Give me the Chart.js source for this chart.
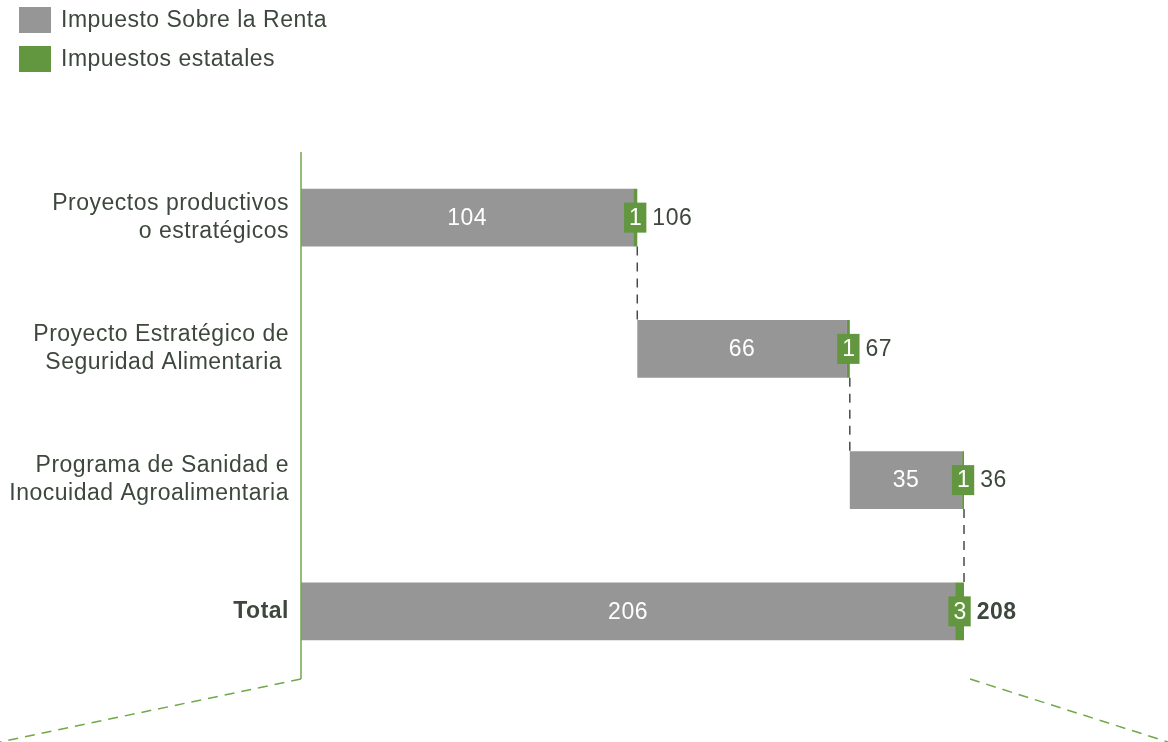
<!DOCTYPE html>
<html>
<head>
<meta charset="utf-8">
<script src="https://cdn.jsdelivr.net/npm/chart.js@4"></script>
<style>
  html, body { margin: 0; padding: 0; background: #fff; }
  #wrap { width: 1168px; height: 742px; }
</style>
</head>
<body>
<div id="wrap"><canvas id="taxChart"></canvas></div>
<script>
const categories = [
  ["Proyectos productivos", "o estratégicos"],
  ["Proyecto Estratégico de", "Seguridad Alimentaria "],
  ["Programa de Sanidad e", "Inocuidad Agroalimentaria"],
  "Total"
]
const seriesNames = ["Impuesto Sobre la Renta", "Impuestos estatales"]
const renta = [104.4, 65.9, 35.3]
const estatales = [1.3, 0.9, 0.6]

const GRAY = "#969696"
const GREEN = "#62963f"
const TEXT = "#3d473d"
const FONT = "'Liberation Sans', Arial, sans-serif"
const SIZE = 23

// build waterfall ranges
const rentaBars = []
const estBars = []
let run = 0
renta.forEach((v, i) => {
  rentaBars.push([run, run + v])
  estBars.push([run + v, run + v + estatales[i]])
  run += v + estatales[i]
})
const sumRenta = renta.reduce((a, b) => a + b, 0)
const sumEst = estatales.reduce((a, b) => a + b, 0)
rentaBars.push([0, sumRenta])
estBars.push([sumRenta, sumRenta + sumEst])

const decor = {
  id: "decor",
  beforeDraw(chart) {
    chart.ctx.letterSpacing = "0.5px"
  },
  afterDatasetsDraw(chart) {
    const { ctx, chartArea, scales } = chart
    const x = scales.x
    const m0 = chart.getDatasetMeta(0).data
    const m1 = chart.getDatasetMeta(1).data
    ctx.save()

    // connectors
    ctx.strokeStyle = "#4a4a4a"
    ctx.lineWidth = 1.5
    ctx.setLineDash([9, 7])
    for (let i = 0; i < m0.length - 1; i++) {
      const px = x.getPixelForValue(estBars[i][1])
      ctx.beginPath()
      ctx.moveTo(px, m0[i].y + m0[i].height / 2)
      ctx.lineTo(px, m0[i + 1].y - m0[i + 1].height / 2)
      ctx.stroke()
    }

    // axis line and perspective lines
    ctx.setLineDash([])
    ctx.strokeStyle = "#70a84a"
    ctx.lineWidth = 1.5
    ctx.beginPath()
    ctx.moveTo(chartArea.left, chartArea.top)
    ctx.lineTo(chartArea.left, chartArea.bottom + 2)
    ctx.stroke()
    ctx.setLineDash([10, 7])
    ctx.beginPath()
    ctx.moveTo(chartArea.left, chartArea.bottom + 2)
    ctx.lineTo(0, chart.height)
    ctx.stroke()
    const endX = x.getPixelForValue(estBars[3][1]) + 6
    ctx.beginPath()
    ctx.moveTo(endX, chartArea.bottom + 2)
    ctx.lineTo(chart.width, chart.height)
    ctx.stroke()
    ctx.setLineDash([])

    // labels
    ctx.letterSpacing = "0.5px"
    ctx.textBaseline = "middle"
    m0.forEach((bar, i) => {
      const bold = i === m0.length - 1
      const r = rentaBars[i], e = estBars[i]
      ctx.font = SIZE + "px " + FONT
      ctx.fillStyle = "#ffffff"
      ctx.textAlign = "center"
      ctx.fillText(Math.round(r[1] - r[0]), (bar.x + bar.base) / 2, bar.y + 1)

      const g = m1[i]
      const gc = (g.x + g.base) / 2
      const txt = String(Math.round(e[1] - e[0]))
      const w = ctx.measureText(txt).width + 9
      ctx.fillStyle = GREEN
      ctx.fillRect(gc - w / 2, bar.y - 15, w, 30)
      ctx.fillStyle = "#ffffff"
      ctx.fillText(txt, gc + 0.5, bar.y + 1)

      const rowTotal = bold ? e[1] : e[1] - (i ? estBars[i - 1][1] : 0)
      ctx.font = (bold ? "bold " : "") + SIZE + "px " + FONT
      ctx.fillStyle = TEXT
      ctx.textAlign = "left"
      ctx.fillText(Math.round(rowTotal), gc + w / 2 + 6, bar.y + 1)
    })

    // legend
    const colors = [GRAY, GREEN]
    ctx.font = SIZE + "px " + FONT
    ctx.textAlign = "left"
    seriesNames.forEach((name, i) => {
      const y = 20 + i * 39
      ctx.fillStyle = colors[i]
      ctx.fillRect(19, y - 13, 32, 26)
      ctx.fillStyle = TEXT
      ctx.fillText(name, 61, y + 1)
    })
    ctx.restore()
  }
}

new Chart(document.getElementById("taxChart"), {
  type: "bar",
  data: {
    labels: categories,
    datasets: [
      { label: seriesNames[0], data: rentaBars, backgroundColor: GRAY, grouped: false, barPercentage: 0.44, categoryPercentage: 1 },
      { label: seriesNames[1], data: estBars, backgroundColor: GREEN, grouped: false, barPercentage: 0.44, categoryPercentage: 1 }
    ]
  },
  options: {
    indexAxis: "y",
    responsive: true,
    maintainAspectRatio: false,
    animation: false,
    layout: { padding: { top: 152, bottom: 65, right: 8, left: 0 } },
    plugins: {
      legend: { display: false },
      tooltip: { enabled: false }
    },
    scales: {
      x: { display: false, min: 0, max: 270 },
      y: {
        grid: { display: false, drawTicks: false },
        border: { display: false },
        afterFit: scale => { scale.width = 301 },
        ticks: {
          padding: 12,
          color: TEXT,
          font: c => ({ family: FONT, size: SIZE, lineHeight: 1.22, weight: c.index === 3 ? "bold" : "normal" })
        }
      }
    }
  },
  plugins: [decor]
})
</script>
</body>
</html>
